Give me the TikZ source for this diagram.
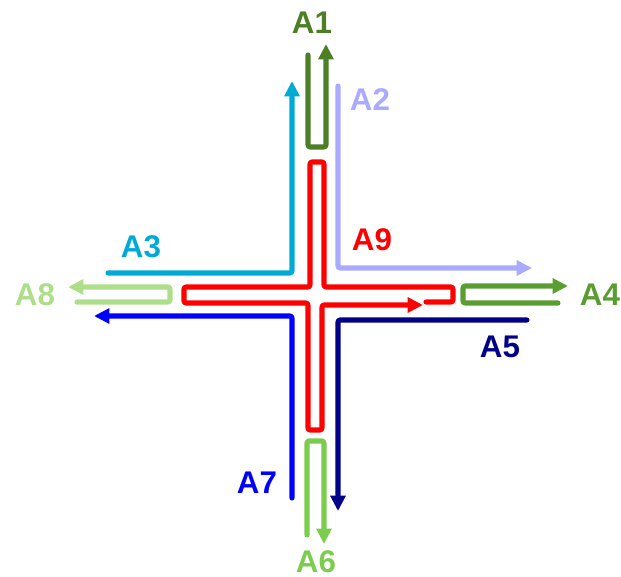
\documentclass[tikz,border=0pt]{standalone}
\usepackage{fontspec}
\setmainfont{Liberation Sans}
\usetikzlibrary{arrows.meta}
\definecolor{aOne}{HTML}{4C7F26}
\definecolor{aTwo}{HTML}{AAAAFF}
\definecolor{aThree}{HTML}{00AAD4}
\definecolor{aFour}{HTML}{5A9E32}
\definecolor{aFive}{HTML}{000088}
\definecolor{aSix}{HTML}{7CCC4E}
\definecolor{aSeven}{HTML}{0000FF}
\definecolor{aEight}{HTML}{ADDE8A}
\definecolor{aNine}{HTML}{FF0000}

\begin{document}
\begin{tikzpicture}[x=0.75pt,y=-0.75pt,
    route/.style={line width=3.8pt,line cap=round,line join=round,rounded corners=1.5pt},
    routeto/.style={route,-{Triangle[length=11.5pt,width=11pt]}},
    tag/.style={font=\fontsize{23.5}{26}\selectfont\bfseries,inner sep=0pt}]
  \useasboundingbox (0,0) rectangle (621,577);

  % A9: the cross outline (red)
  \draw[routeto,aNine] (426,302) -- (453,302) -- (453,287) -- (324,287) -- (324,162)
    -- (310,162) -- (310,287) -- (184,287) -- (184,303) -- (308,303) -- (308,430)
    -- (322,430) -- (322,305) -- (423,305);

  % north
  \draw[routeto,aOne] (308,55) -- (308,147) -- (326,147) -- (326,44);
  \draw[routeto,aTwo] (338,86) -- (338,268) -- (532,268);
  \draw[routeto,aThree] (108,273) -- (292,273) -- (292,81);

  % west
  \draw[routeto,aEight] (77,302) -- (170,302) -- (170,287) -- (68,287);
  \draw[routeto,aSeven] (292,498) -- (292,316) -- (94,316);

  % east
  \draw[routeto,aFour] (558,303) -- (463,303) -- (463,286) -- (568,286);
  \draw[routeto,aFive] (527,320) -- (338,320) -- (338,511);

  % south
  \draw[routeto,aSix] (307,535) -- (307,441) -- (324,441) -- (324,544);

  % labels
  \node[tag,aOne] (tOne) at (312,23) {A1};
  \node[tag,aTwo] (tTwo) at (370,100) {A2};
  \node[tag,aThree] (tThree) at (141,247) {A3};
  \node[tag,aFour] (tFour) at (600,295) {A4};
  \node[tag,aFive] (tFive) at (500,347) {A5};
  \node[tag,aSix] (tSix) at (316,562) {A6};
  \node[tag,aSeven] (tSeven) at (257,483) {A7};
  \node[tag,aEight] (tEight) at (35,295) {A8};
  \node[tag,aNine] (tNine) at (372,240) {A9};
\end{tikzpicture}
\end{document}
